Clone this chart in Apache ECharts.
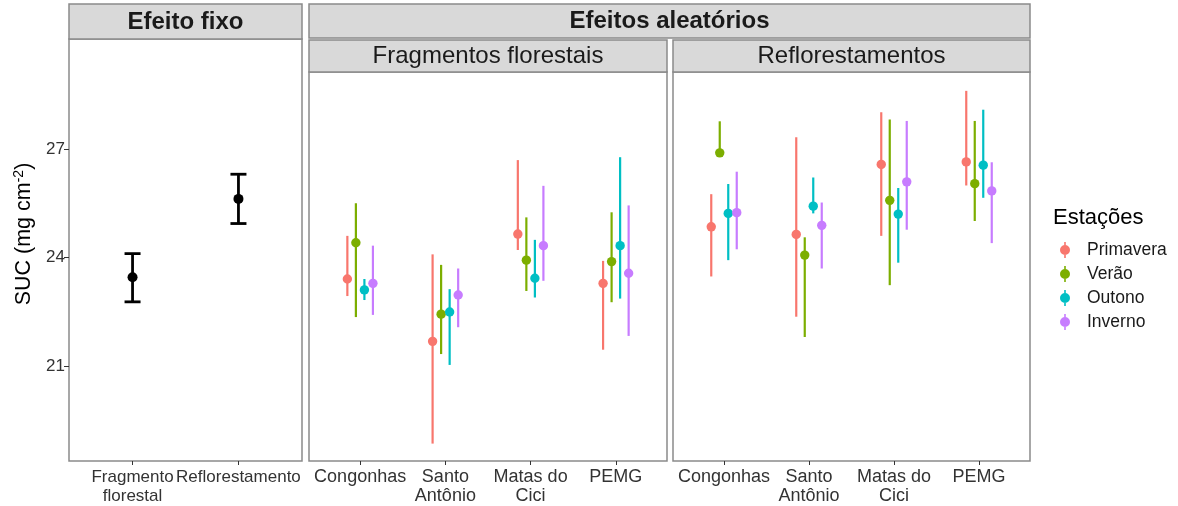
<!DOCTYPE html>
<html>
<head>
<meta charset="utf-8">
<script src="https://cdn.jsdelivr.net/npm/echarts@6/dist/echarts.min.js"></script>
<style>
html,body{margin:0;padding:0;background:#fff;}
#chart{width:1178px;height:506px;}
</style>
</head>
<body>
<div id="chart"></div>
<script>
// ---- data ----
const fixedCategories = ['Fragmento\nflorestal', 'Reflorestamento'];
const fixedMean = [23.46, 25.62];
const fixedLow  = [22.78, 24.94];
const fixedHigh = [24.11, 26.30];

const sites = ['Congonhas', 'Santo\nAntônio', 'Matas do\nCici', 'PEMG'];
const seasons = ['Primavera', 'Verão', 'Outono', 'Inverno'];
const seasonColors = ['#F8766D', '#7CAE00', '#00BFC4', '#C77CFF'];

// rows = seasons, columns = sites
const fragMean = [
  [23.41, 21.69, 24.65, 23.29],
  [24.41, 22.44, 23.93, 23.89],
  [23.11, 22.50, 23.43, 24.33],
  [23.29, 22.97, 24.33, 23.57]
];
const fragLow = [
  [22.94, 18.87, 24.21, 21.46],
  [22.36, 21.34, 23.08, 22.77],
  [22.83, 21.04, 22.90, 22.87],
  [22.42, 22.08, 23.36, 21.84]
];
const fragHigh = [
  [24.60, 24.09, 26.69, 23.91],
  [25.50, 23.80, 25.11, 25.25],
  [23.41, 23.13, 24.49, 26.77],
  [24.33, 23.70, 25.98, 25.44]
];
const reflMean = [
  [24.85, 24.64, 26.57, 26.64],
  [26.89, 24.07, 25.58, 26.04],
  [25.22, 25.42, 25.20, 26.55],
  [25.24, 24.89, 26.09, 25.84]
];
const reflLow = [
  [23.48, 22.37, 24.60, 25.99],
  [26.80, 21.81, 23.24, 25.01],
  [23.93, 25.22, 23.86, 25.65],
  [24.23, 23.70, 24.77, 24.40]
];
const reflHigh = [
  [25.75, 27.32, 28.01, 28.60],
  [27.76, 24.56, 27.81, 27.77],
  [26.03, 26.21, 25.92, 28.08],
  [26.37, 25.52, 27.77, 26.63]
];
const yTicks = [21, 24, 27];

// ---- layout / style ----
const FONT = "'Liberation Sans', Arial, sans-serif";
const yMin = 18.39, yMaxLeft = 30.03, yMaxRight = 29.12;
const dodgeStep = 0.1;
const border = '#8a8a8a';
const stripFill = '#D9D9D9';

const chart = echarts.init(document.getElementById('chart'));

function xAxisFor(gridIndex, labels, fontSize) {
  const vals = labels.map((_, i) => i + 1);
  return {
    type: 'value', gridIndex: gridIndex, min: 0.4, max: labels.length + 0.6,
    axisLine: {show: false}, splitLine: {show: false},
    axisTick: {show: true, customValues: vals, length: 4, lineStyle: {color: '#333', width: 1}},
    axisLabel: {
      show: true, customValues: vals, margin: 7, showMinLabel: true, showMaxLabel: true, hideOverlap: false,
      fontFamily: FONT, fontSize: fontSize, color: '#333', lineHeight: 19,
      formatter: function (v) { return labels[Math.round(v) - 1] || ''; }
    }
  };
}
function yAxisFor(gridIndex, max, show) {
  return {
    type: 'value', gridIndex: gridIndex, min: yMin, max: max,
    axisLine: {show: false}, splitLine: {show: false},
    axisTick: {show: show, customValues: yTicks, length: 5, lineStyle: {color: '#333', width: 1}},
    axisLabel: {show: show, customValues: yTicks, margin: 4, showMinLabel: true, showMaxLabel: true,
                fontFamily: FONT, fontSize: 17, color: '#333'}
  };
}

function seasonSeries(gridIndex, s, means, lows, highs) {
  const data = sites.map((_, i) => [i + 1, lows[s][i], means[s][i], highs[s][i]]);
  const off = (s - 1.5) * dodgeStep;
  const color = seasonColors[s];
  return {
    type: 'custom', name: seasons[s], xAxisIndex: gridIndex, yAxisIndex: gridIndex,
    itemStyle: {color: color},
    data: data,
    renderItem: function (params, api) {
      const x = api.value(0) + off;
      const lo = api.coord([x, api.value(1)]);
      const mid = api.coord([x, api.value(2)]);
      const hi = api.coord([x, api.value(3)]);
      return {
        type: 'group',
        children: [
          {type: 'line', shape: {x1: lo[0], y1: lo[1], x2: hi[0], y2: hi[1]}, style: {stroke: color, lineWidth: 2.2}},
          {type: 'circle', shape: {cx: mid[0], cy: mid[1], r: 4.7}, style: {fill: color}}
        ]
      };
    }
  };
}

const series = [];
series.push({
  type: 'custom', name: 'Efeito fixo', xAxisIndex: 0, yAxisIndex: 0,
  data: fixedMean.map((m, i) => [i + 1, fixedLow[i], m, fixedHigh[i]]),
  renderItem: function (params, api) {
    const x = api.value(0);
    const lo = api.coord([x, api.value(1)]);
    const mid = api.coord([x, api.value(2)]);
    const hi = api.coord([x, api.value(3)]);
    const hw = 8;
    const st = {stroke: '#000', lineWidth: 2.8};
    return {
      type: 'group',
      children: [
        {type: 'line', shape: {x1: lo[0], y1: lo[1], x2: hi[0], y2: hi[1]}, style: st},
        {type: 'line', shape: {x1: lo[0] - hw, y1: lo[1], x2: lo[0] + hw, y2: lo[1]}, style: st},
        {type: 'line', shape: {x1: hi[0] - hw, y1: hi[1], x2: hi[0] + hw, y2: hi[1]}, style: st},
        {type: 'circle', shape: {cx: mid[0], cy: mid[1], r: 5}, style: {fill: '#000'}}
      ]
    };
  }
});
for (let s = 0; s < 4; s++) series.push(seasonSeries(1, s, fragMean, fragLow, fragHigh));
for (let s = 0; s < 4; s++) series.push(seasonSeries(2, s, reflMean, reflLow, reflHigh));

function strip(x, y, w, h) {
  return {type: 'rect', shape: {x: x, y: y, width: w, height: h}, style: {fill: stripFill, stroke: border, lineWidth: 1.5}, z: 10};
}
function stripText(x, y, text, bold) {
  return {type: 'text', x: x, y: y, z: 11, style: {text: text, fontFamily: FONT, fontSize: 24, fontWeight: bold ? 'bold' : 'normal', fill: '#1a1a1a', align: 'center', verticalAlign: 'middle'}};
}

const option = {
  animation: false,
  backgroundColor: '#fff',
  grid: [
    {left: 69, top: 39, width: 233, height: 423, show: true, borderColor: border, borderWidth: 1.5, backgroundColor: '#fff'},
    {left: 309, top: 72, width: 358, height: 390, show: true, borderColor: border, borderWidth: 1.5, backgroundColor: '#fff'},
    {left: 673, top: 72, width: 357, height: 390, show: true, borderColor: border, borderWidth: 1.5, backgroundColor: '#fff'}
  ],
  xAxis: [xAxisFor(0, fixedCategories, 17), xAxisFor(1, sites, 18), xAxisFor(2, sites, 18)],
  yAxis: [yAxisFor(0, yMaxLeft, true), yAxisFor(1, yMaxRight, false), yAxisFor(2, yMaxRight, false)],
  legend: {
    data: seasons, orient: 'vertical', left: 1060, top: 241, padding: 0,
    itemWidth: 10, itemHeight: 16, itemGap: 6, selectedMode: false,
    icon: 'path://M4.2,0 L5.8,0 L5.8,16 L4.2,16 Z M0,8 A5,5 0 1 1 10,8 A5,5 0 1 1 0,8 Z',
    textStyle: {fontFamily: FONT, fontSize: 17.5, color: '#1a1a1a', padding: [0, 0, 0, 12]}
  },
  graphic: [
    strip(69, 4, 233, 35),
    stripText(185.5, 22, 'Efeito fixo', true),
    strip(309, 4, 721, 34),
    stripText(669.5, 21.5, 'Efeitos aleatórios', true),
    strip(309, 40, 358, 32),
    stripText(488, 56.5, 'Fragmentos florestais', false),
    strip(673, 40, 357, 32),
    stripText(851.5, 56.5, 'Reflorestamentos', false),
    {type: 'text', x: 24, y: 234, rotation: Math.PI / 2, z: 11,
     style: {text: 'SUC (mg cm{sup|-2})', fontFamily: FONT, fontSize: 21.5, fill: '#000', align: 'center', verticalAlign: 'middle',
             rich: {sup: {fontFamily: FONT, fontSize: 14, fill: '#000', padding: [0, 0, 10, 0]}}}},
    {type: 'text', x: 1053, y: 218, z: 11,
     style: {text: 'Estações', fontFamily: FONT, fontSize: 22, fill: '#000', align: 'left', verticalAlign: 'middle'}}
  ],
  series: series
};
chart.setOption(option);
</script>
</body>
</html>
